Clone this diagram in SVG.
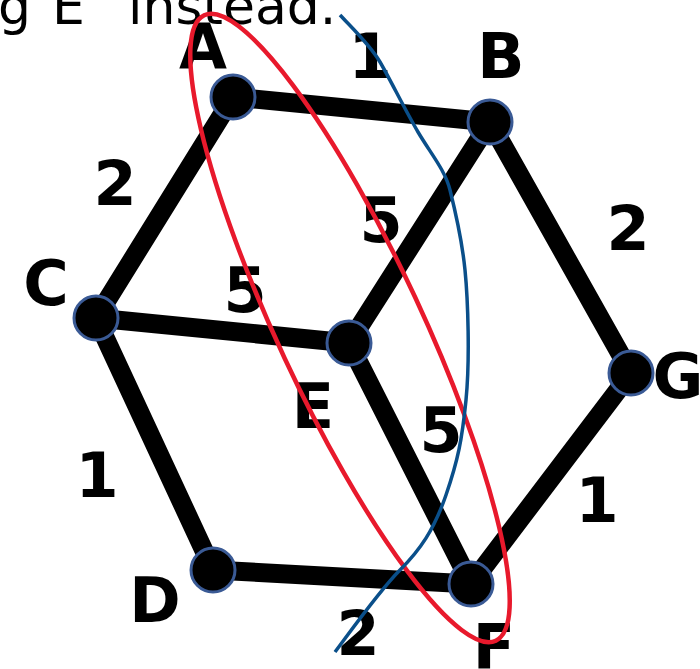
<svg xmlns="http://www.w3.org/2000/svg" width="700" height="669" viewBox="0 0 700 669">
<style>
.lbl{font-family:"DejaVu Sans","Liberation Sans",sans-serif;font-weight:bold;font-size:62px;fill:#000;text-anchor:middle}
.edge{stroke:#000;stroke-width:19;stroke-linecap:round;fill:none}
.node{fill:#000;stroke:#3a5a95;stroke-width:3}
</style>
<rect width="700" height="669" fill="#fff"/>
<text font-family="'DejaVu Sans','Liberation Sans',sans-serif" font-size="52" fill="#000" y="24"><tspan x="-2">g</tspan><tspan x="52">E</tspan><tspan x="128">instead.</tspan></text>
<g id="labels">
<text class="lbl" x="203" y="68">A</text>
<text class="lbl" x="501" y="78">B</text>
<text class="lbl" x="46" y="305">C</text>
<text class="lbl" x="313" y="428">E</text>
<text class="lbl" x="678" y="398">G</text>
<text class="lbl" x="155" y="622">D</text>
<text class="lbl" x="494" y="668">F</text>
<text class="lbl" x="370" y="78">1</text>
<text class="lbl" x="115" y="205">2</text>
<text class="lbl" x="381" y="242">5</text>
<text class="lbl" x="628" y="250">2</text>
<text class="lbl" x="245" y="312">5</text>
<text class="lbl" x="441" y="452">5</text>
<text class="lbl" x="97" y="497">1</text>
<text class="lbl" x="597" y="522">1</text>
<text class="lbl" x="358" y="655">2</text>
</g>
<g id="connectors">
<line class="edge" x1="233" y1="97" x2="490" y2="122"/>
<line class="edge" x1="233" y1="97" x2="96" y2="318"/>
<line class="edge" x1="490" y1="122" x2="349" y2="343"/>
<line class="edge" x1="490" y1="122" x2="631" y2="373"/>
<line class="edge" x1="96" y1="318" x2="349" y2="343"/>
<line class="edge" x1="96" y1="318" x2="213" y2="570"/>
<line class="edge" x1="349" y1="343" x2="471" y2="584"/>
<line class="edge" x1="213" y1="570" x2="471" y2="584"/>
<line class="edge" x1="631" y1="373" x2="471" y2="584"/>
</g>
<g id="A"><circle class="node" cx="233" cy="97" r="22"/></g>
<g id="B"><circle class="node" cx="490" cy="122" r="22"/></g>
<g id="C"><circle class="node" cx="96" cy="318" r="22"/></g>
<g id="E"><circle class="node" cx="349" cy="343" r="22"/></g>
<g id="G"><circle class="node" cx="631" cy="373" r="22"/></g>
<g id="D"><circle class="node" cx="213" cy="570" r="22"/></g>
<g id="F"><circle class="node" cx="471" cy="584" r="22"/></g>
<ellipse cx="350" cy="328" rx="72" ry="345" transform="rotate(-25 350 328)" fill="none" stroke="#e8192c" stroke-width="4.5"/>
<path d="M340,15 C352,28 370,45 380,62 S405,110 418,132 S445,170 450,190 S462,240 465,270 S470,360 466,400 S458,460 446,495 S420,550 400,570 S350,632 335,652" fill="none" stroke="#0a4f8a" stroke-width="3.5"/>
</svg>
